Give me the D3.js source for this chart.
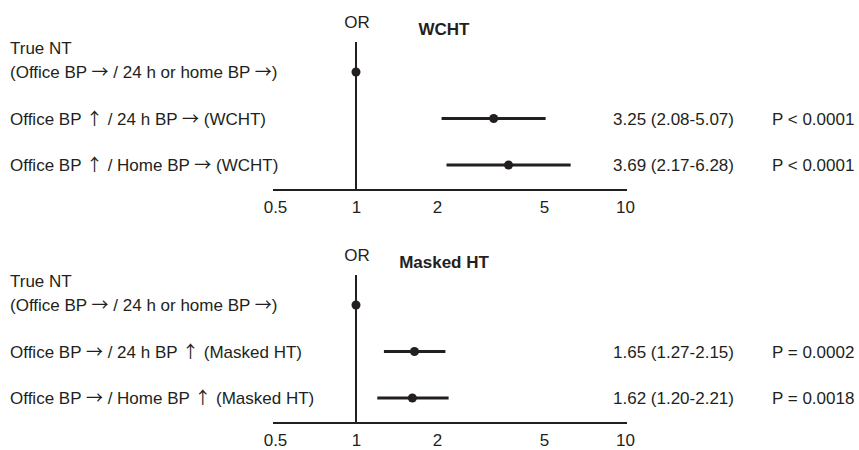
<!DOCTYPE html>
<html>
<head>
<meta charset="utf-8">
<script src="https://cdn.jsdelivr.net/npm/d3@7"></script>
<style>
  body { margin: 0; background: #fff; }
  text { font-family: "Liberation Sans", Arial, sans-serif; fill: #231f20; }
  .arrow { font-family: "Noto Sans CJK JP", "DejaVu Sans", sans-serif; }
</style>
</head>
<body>
<div id="chart"></div>
<script>
// odds ratios
var panelTitles = ["WCHT", "Masked HT"];
var tickValues = [0.5, 1, 2, 5, 10];

var wchtLabels = [
    ["True NT", "(Office BP \u2192 / 24 h or home BP \u2192)"],
    ["Office BP \u2191 / 24 h BP \u2192 (WCHT)"],
    ["Office BP \u2191 / Home BP \u2192 (WCHT)"]
];
var wchtOR = [1, 3.25, 3.69];
var wchtLo = [null, 2.08, 2.17];
var wchtHi = [null, 5.07, 6.28];
var wchtP = ["", "P < 0.0001", "P < 0.0001"];

var maskedLabels = [
    ["True NT", "(Office BP \u2192 / 24 h or home BP \u2192)"],
    ["Office BP \u2192 / 24 h BP \u2191 (Masked HT)"],
    ["Office BP \u2192 / Home BP \u2191 (Masked HT)"]
];
var maskedOR = [1, 1.65, 1.62];
var maskedLo = [null, 1.27, 1.20];
var maskedHi = [null, 2.15, 2.21];
var maskedP = ["", "P = 0.0002", "P = 0.0018"];

var ink = "#231f20";
var fs = 17;
var fmt = d3.format(".2f");

var svg = d3.select("#chart").append("svg")
    .attr("width", 859)
    .attr("height", 450);

var x = d3.scaleLog()
    .domain([0.5, 10])
    .range([275, 625]);

var y = d3.scalePoint()
    .domain([0, 1, 2])
    .range([72, 165]);

var xAxis = d3.axisBottom(x)
    .tickValues(tickValues)
    .tickFormat(d3.format(""))
    .tickSize(0)
    .tickPadding(11);

// put arrows in their own tspan so they get a thin full-width glyph
function addPieces(t, s) {
    s.split(/([\u2190-\u21ff])/).forEach(function(p) {
        if (p === "") return;
        var sp = t.append("tspan").text(p);
        if (/[\u2190-\u21ff]/.test(p)) sp.attr("class", "arrow");
    });
}

function drawPanel(offset, title, labels, or, lo, hi, pv) {
    var g = svg.append("g")
        .attr("transform", "translate(0," + offset + ")");

    var rows = or.map(function(d, i) {
        return {i: i, or: d, lo: lo[i], hi: hi[i], p: pv[i], label: labels[i]};
    });

    // reference line at OR = 1
    g.append("line")
        .attr("x1", x(1)).attr("x2", x(1))
        .attr("y1", 42).attr("y2", 190)
        .attr("stroke", ink)
        .attr("stroke-width", 2);

    var ax = g.append("g")
        .attr("transform", "translate(0,190)")
        .call(xAxis);
    ax.attr("font-family", null).attr("font-size", null);
    ax.select(".domain")
        .attr("d", "M273,0H627")
        .attr("stroke", ink)
        .attr("stroke-width", 2);
    ax.selectAll("text")
        .attr("font-size", fs)
        .attr("fill", ink);

    g.append("text")
        .attr("x", x(1) + 1)
        .attr("y", 28)
        .attr("text-anchor", "middle")
        .attr("font-size", fs)
        .text("OR");

    g.append("text")
        .attr("x", 444)
        .attr("y", 34.5)
        .attr("text-anchor", "middle")
        .attr("font-size", fs)
        .attr("font-weight", "bold")
        .text(title);

    // CI bars
    g.selectAll(".ci")
        .data(rows.filter(function(d){ return d.lo != null; }))
        .enter().append("line")
        .attr("class", "ci")
        .attr("x1", function(d){ return x(d.lo); })
        .attr("x2", function(d){ return x(d.hi); })
        .attr("y1", function(d){ return y(d.i); })
        .attr("y2", function(d){ return y(d.i); })
        .attr("stroke", ink)
        .attr("stroke-width", 3);

    g.selectAll(".dot")
        .data(rows)
        .enter().append("circle")
        .attr("class", "dot")
        .attr("cx", function(d){ return x(d.or); })
        .attr("cy", function(d){ return y(d.i); })
        .attr("r", 4.5)
        .attr("fill", ink);

    // left labels
    g.selectAll(".lab")
        .data(rows)
        .enter().append("g")
        .attr("class", "lab")
        .each(function(d) {
            var gg = d3.select(this);
            var n = d.label.length;
            d.label.forEach(function(s, k) {
                var t = gg.append("text")
                    .attr("x", 10)
                    .attr("y", y(d.i) + 6 - (n - 1 - k) * 24)
                    .attr("font-size", fs);
                addPieces(t, s);
            });
        });

    // right columns
    var stats = rows.filter(function(d){ return d.lo != null; });
    g.selectAll(".est")
        .data(stats)
        .enter().append("text")
        .attr("class", "est")
        .attr("x", 613)
        .attr("y", function(d){ return y(d.i) + 6; })
        .attr("font-size", fs)
        .text(function(d){ return fmt(d.or) + " (" + fmt(d.lo) + "-" + fmt(d.hi) + ")"; });

    g.selectAll(".pv")
        .data(stats)
        .enter().append("text")
        .attr("class", "pv")
        .attr("x", 772)
        .attr("y", function(d){ return y(d.i) + 6; })
        .attr("font-size", fs)
        .text(function(d){ return d.p; });
}

drawPanel(0, panelTitles[0], wchtLabels, wchtOR, wchtLo, wchtHi, wchtP);
drawPanel(233, panelTitles[1], maskedLabels, maskedOR, maskedLo, maskedHi, maskedP);
</script>
</body>
</html>
